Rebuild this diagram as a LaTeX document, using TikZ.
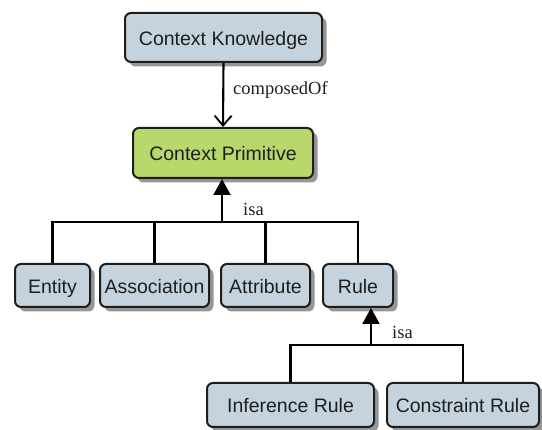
\documentclass[tikz,border=0pt]{standalone}
\usepackage{fontspec}
\setmainfont{Liberation Serif}
\setsansfont{Liberation Sans}
\usetikzlibrary{arrows.meta,shadows}
\definecolor{boxblue}{HTML}{C4D3DD}
\definecolor{boxgreen}{HTML}{B9D86C}
\definecolor{edge}{HTML}{1E1E1E}
\tikzset{
  box/.style={draw=edge, line width=2pt, rounded corners=6pt, fill=boxblue,
    font=\sffamily\fontsize{19.5}{21}\selectfont, text=edge,
    inner sep=0pt, anchor=center, text height=17pt, text depth=1pt,
    drop shadow={shadow xshift=4.5pt, shadow yshift=-4.5pt, fill=black!55, opacity=0.75}},
  link/.style={draw=black, line width=2.1pt},
  lbl/.style={font=\fontsize{18.5}{20}\selectfont, text=edge, anchor=west, inner sep=0pt},
  composed/.style={link, -{Straight Barb[length=10pt,width=17pt,line width=1.8pt]}},
  isaarrow/.style={link, -{Triangle[length=16pt,width=17pt]}}
}
\begin{document}
\begin{tikzpicture}[x=1pt,y=-1pt]
  \useasboundingbox (0,0) rectangle (542,430);

  % top level
  \node[box, minimum width=197pt, minimum height=49pt] (ck) at (223.5,37.5) {Context Knowledge};
  \node[box, fill=boxgreen, minimum width=180pt, minimum height=50pt] (cp) at (223,153) {Context Primitive};

  % primitive kinds
  \node[box, minimum width=75pt,  minimum height=43pt] (ent)  at (52.5,285.5)  {Entity};
  \node[box, minimum width=109pt, minimum height=43pt] (asc)  at (154.5,285.5) {Association};
  \node[box, minimum width=89pt,  minimum height=43pt] (attr) at (265.5,285.5) {Attribute};
  \node[box, minimum width=70pt,  minimum height=43pt] (rule) at (358,285.5)   {Rule};

  % rule kinds
  \node[box, minimum width=167pt, minimum height=44pt] (inf) at (290.5,405) {Inference Rule};
  \node[box, minimum width=152pt, minimum height=44pt] (con) at (463,405)   {Constraint Rule};

  % composition
  \draw[composed] (ck.south) -- (cp.north);
  \node[lbl] (lcomp) at (233,90) {composedOf};

  % first generalisation
  \coordinate (bus) at (222,222);
  \draw[link] (ent.north) |- (bus);
  \draw[link] (rule.north) |- (bus);
  \draw[link] (asc.north) -- (asc.north |- bus);
  \draw[link] (attr.north) -- (attr.north |- bus);
  \draw[isaarrow] (bus) -- (cp.south -| bus);
  \node[lbl] (lisa1) at (243,209) {isa};

  % second generalisation
  \coordinate (bus2) at (371,345);
  \draw[link] (inf.north) |- (bus2);
  \draw[link] (con.north) |- (bus2);
  \draw[isaarrow] (bus2) -- (rule.south -| bus2);
  \node[lbl] (lisa2) at (392,332) {isa};
\end{tikzpicture}
\end{document}
